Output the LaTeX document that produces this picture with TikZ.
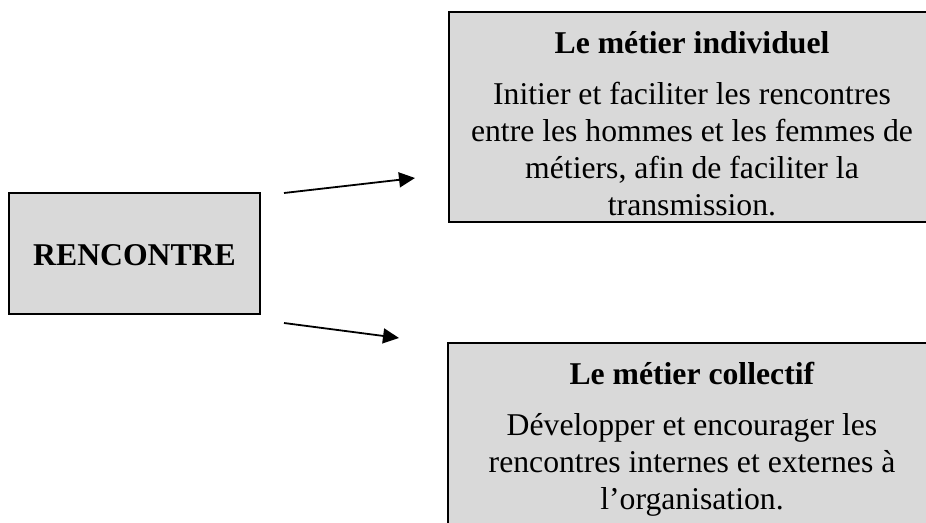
\documentclass[tikz,border=0pt]{standalone}
\usepackage{fontspec}
\setmainfont{Liberation Serif}
\usetikzlibrary{arrows.meta}
\definecolor{boxgray}{RGB}{217,217,217}
\begin{document}
\begin{tikzpicture}[x=1pt,y=1pt,
  box/.style={draw=black, line width=1.8pt, fill=boxgray, rectangle, inner sep=0pt},
  txt/.style={align=center, inner sep=0pt, font=\fontsize{31.7}{37}\selectfont},
  arr/.style={line width=1.8pt, -{Triangle[length=16pt,width=15pt]}}]
\useasboundingbox (0,0) rectangle (926,-522);
% left box
\node[box, minimum width=251pt, minimum height=121pt] (ren) at (134.5,-253.5) {};
\node[txt, font=\fontsize{31.7}{37}\selectfont\bfseries, anchor=base] (rentxt) at (134.5,-265) {RENCONTRE};
% top right box
\node[box, minimum width=486pt, minimum height=210pt] (ind) at (692,-117) {};
\node[txt, anchor=base] (indtxt) at (692,-215) {\textbf{Le métier individuel}\\[14pt]
  Initier et faciliter les rencontres\\
  entre les hommes et les femmes de\\
  métiers, afin de faciliter la\\
  transmission.};
% bottom right box
\node[box, minimum width=487pt, minimum height=220pt] (col) at (691.5,-453) {};
\node[txt, anchor=base] (coltxt) at (692,-509) {\textbf{Le métier collectif}\\[14pt]
  Développer et encourager les\\
  rencontres internes et externes à\\
  l’organisation.};
% arrows
\coordinate (a1s) at (284,-193);
\coordinate (a1e) at (415,-178);
\coordinate (a2s) at (284,-323);
\coordinate (a2e) at (399,-338);
\draw[arr] (a1s) -- (a1e);
\draw[arr] (a2s) -- (a2e);
\end{tikzpicture}
\end{document}
